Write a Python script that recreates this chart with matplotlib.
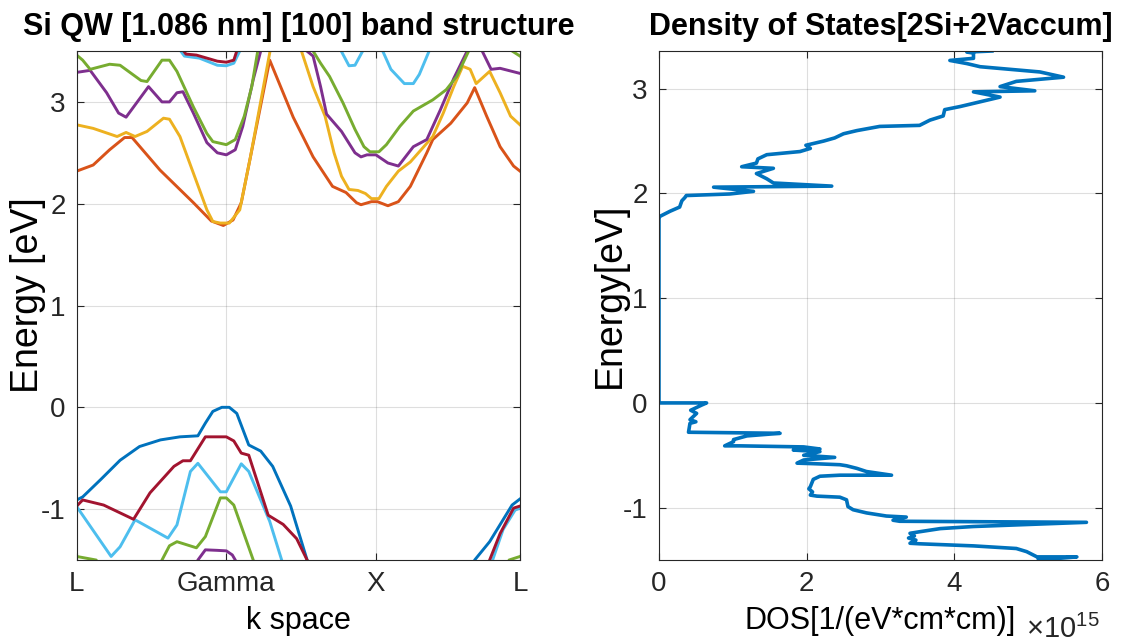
import numpy as np
import matplotlib
matplotlib.use("Agg")
import matplotlib.pyplot as plt

nan = np.nan

# ---- band structure: k along L-Gamma-X-L, energies in eV --------------------
k_ticks = [0.0, 1.0, 2.0, 2.963]
k_labels = ["L", "Gamma", "X", "L"]

# conduction bands
cb_orange_k = [0, 0.11, 0.22, 0.32, 0.37, 0.557, 0.78, 0.90, 0.98, 1.045, 1.10, 1.16, 1.29,
               1.447, 1.58, 1.71, 1.80, 1.87, 1.90, 1.97, 2.01, 2.08, 2.15, 2.23, 2.34, 2.38,
               2.50, 2.61, 2.66, 2.74, 2.83, 2.92, 2.963]
cb_orange_e = [2.32, 2.38, 2.53, 2.65, 2.65, 2.33, 2.01, 1.83, 1.786, 1.84, 2.01, 2.45, 3.41,
               2.85, 2.46, 2.17, 2.11, 2.01, 1.99, 2.02, 2.02, 1.98, 2.02, 2.17, 2.50, 2.63,
               2.79, 2.99, 3.14, 2.86, 2.56, 2.37, 2.32]

cb_yellow_k = [0, 0.11, 0.27, 0.33, 0.39, 0.47, 0.58, 0.62, 0.69, 0.78, 0.87, 0.91, 0.96,
               1.02, 1.09, 1.16, 1.305, 1.40, 1.49, 1.50, 1.58, 1.66, 1.72, 1.77, 1.82, 1.88,
               1.93, 1.97, 2.02, 2.07, 2.15, 2.23, 2.32, 2.38, 2.45, 2.52, 2.58, 2.63, 2.67,
               2.76, 2.83, 2.90, 2.963]
cb_yellow_e = [2.775, 2.74, 2.66, 2.70, 2.66, 2.71, 2.84, 2.83, 2.66, 2.30, 1.94, 1.825, 1.81,
               1.81, 1.94, 2.45, 3.60, 3.70, 3.60, 3.51, 3.15, 2.86, 2.50, 2.27, 2.14, 2.13,
               2.10, 2.05, 2.05, 2.17, 2.32, 2.41, 2.56, 2.66, 2.89, 3.15, 3.35, 3.32, 3.18,
               3.30, 3.09, 2.86, 2.775]

cb_purple_k = [0, 0.09, 0.20, 0.28, 0.33, 0.48, 0.57, 0.62, 0.67, 0.71, 0.78, 0.87, 0.94,
               1.00, 1.06, 1.11, 1.18, 1.23, 1.25, 1.51, 1.53, 1.58, 1.63, 1.67, 1.77, 1.86,
               1.90, 1.94, 2.00, 2.08, 2.15, 2.25, 2.34, 2.43, 2.52, 2.61, 2.63, 2.69, 2.71,
               2.77, 2.83, 2.963]
cb_purple_e = [3.29, 3.31, 3.09, 2.89, 2.85, 3.15, 3.00, 3.00, 3.09, 3.10, 2.89, 2.60, 2.50,
               2.48, 2.53, 2.76, 3.22, 3.50, 3.60, 3.60, 3.51, 3.45, 3.15, 2.88, 2.71, 2.50,
               2.46, 2.48, 2.48, 2.40, 2.37, 2.56, 2.63, 2.92, 3.23, 3.50, 3.60, 3.60, 3.50,
               3.32, 3.33, 3.28]

cb_green_k = [0, 0.04, 0.09, 0.22, 0.29, 0.43, 0.47, 0.57, 0.62, 0.67, 0.78, 0.87, 0.91,
              1.00, 1.06, 1.12, 1.17, 1.21, 1.23, 1.56, 1.58, 1.63, 1.69, 1.78, 1.86, 1.92,
              1.96, 2.02, 2.07, 2.16, 2.25, 2.38, 2.47, 2.54, 2.62, 2.64, 2.89, 2.91, 2.963]
cb_green_e = [3.46, 3.41, 3.32, 3.37, 3.36, 3.21, 3.20, 3.41, 3.41, 3.30, 2.95, 2.69, 2.61,
              2.58, 2.63, 2.86, 3.15, 3.50, 3.60, 3.60, 3.50, 3.38, 3.25, 2.99, 2.73, 2.56,
              2.51, 2.51, 2.58, 2.76, 2.91, 3.02, 3.12, 3.25, 3.50, 3.60, 3.60, 3.50, 3.45]

cb_lblue_k = [0.67, 0.72, 0.82, 0.94, 1.00, 1.05, 1.09, 1.10, nan,
              1.75, 1.82, 1.86, 1.93, nan,
              2.03, 2.10, 2.19, 2.25, 2.29, 2.37]
cb_lblue_e = [3.55, 3.45, 3.43, 3.36, 3.355, 3.38, 3.50, 3.55, nan,
              3.55, 3.355, 3.36, 3.55, nan,
              3.55, 3.32, 3.18, 3.18, 3.27, 3.55]

cb_dred_k = [0.69, 0.73, 0.80, 0.94, 1.00, 1.05, 1.07, 1.08]
cb_dred_e = [3.55, 3.47, 3.46, 3.40, 3.39, 3.41, 3.50, 3.55]

# valence bands
vb_blue_k = [0, 0.04, 0.16, 0.29, 0.42, 0.56, 0.69, 0.81, 0.86, 0.91, 0.97, 1.00, 1.02,
             1.07, 1.15, 1.23, 1.31, 1.43, 1.54, 1.56, 2.64, 2.66, 2.76, 2.91, 2.963]
vb_blue_e = [-0.91, -0.88, -0.71, -0.52, -0.385, -0.32, -0.29, -0.28, -0.155, -0.04, 0.0,
             0.0, 0.0, -0.06, -0.37, -0.43, -0.58, -0.97, -1.50, -1.60, -1.60, -1.50,
             -1.32, -0.96, -0.90]

vb_dred_k = [0, 0.04, 0.18, 0.38, 0.49, 0.65, 0.71, 0.76, 0.86, 1.00, 1.05, 1.10, 1.15,
             1.28, 1.38, 1.47, 1.54, 1.56, 2.74, 2.76, 2.83, 2.92, 2.963]
vb_dred_e = [-0.97, -0.91, -0.96, -1.10, -0.84, -0.58, -0.525, -0.525, -0.29, -0.29, -0.33,
             -0.45, -0.47, -1.06, -1.15, -1.29, -1.50, -1.60, -1.60, -1.50, -1.24, -0.99,
             -0.97]

vb_lblue_k = [0, 0.23, 0.29, 0.39, 0.61, 0.67, 0.76, 0.81, 0.96, 1.00, 1.10, 1.15, 1.23,
              1.29, 1.37, 1.38, 2.77, 2.78, 2.85, 2.93, 2.963]
vb_lblue_e = [-0.975, -1.465, -1.37, -1.105, -1.285, -1.155, -0.63, -0.55, -0.83, -0.83,
              -0.555, -0.63, -0.91, -1.12, -1.50, -1.60, -1.60, -1.50, -1.20, -1.01, -0.99]

vb_green_k = [0, 0.13, 0.15, nan, 0.56, 0.57, 0.62, 0.67, 0.80, 0.86, 0.96, 1.00, 1.05,
              1.18, 1.19, nan, 2.88, 2.89, 2.963]
vb_green_e = [-1.465, -1.50, -1.55, nan, -1.55, -1.50, -1.36, -1.32, -1.38, -1.27, -0.89,
              -0.89, -0.96, -1.50, -1.55, nan, -1.55, -1.50, -1.465]

vb_purple_k = [0.80, 0.81, 0.86, 0.94, 1.00, 1.04, 1.06, 1.07]
vb_purple_e = [-1.55, -1.50, -1.40, -1.405, -1.41, -1.45, -1.50, -1.55]

# ---- density of states (x10^15 1/(eV cm^2)) vs energy ----------------------
dos_val = [5.14, 5.66, 5.12, 4.98, 4.84, 4.26, 3.53, 3.40, 3.48, 3.38, 3.46, 3.40, 3.53, 3.81,
           4.26, 5.79, 3.26, 3.17, 3.35, 3.08, 2.81, 2.63, 2.56, 2.54, 2.45, 2.14, 2.05, 2.08,
           2.03, 2.05, 2.09, 2.18, 2.45, 3.15, 2.81, 2.68, 2.54, 2.45, 2.09, 1.87, 1.96, 2.38,
           1.96, 2.18, 1.82, 2.18, 1.96, 1.10, 0.89, 1.01, 1.01, 1.19, 1.64, 0.40, 0.42, 0.50,
           0.42, 0.51, 0.43, 0.58, 0.645, 0.0, 0.0, 0.01, 0.15, 0.28, 0.31, 0.35, 0.37, 0.96,
           1.28, 0.74, 2.34, 1.55, 1.46, 1.32, 1.55, 1.12, 1.32, 1.34, 1.46, 1.91, 2.05, 1.99,
           2.23, 2.38, 2.50, 2.68, 2.99, 3.53, 3.67, 3.85, 3.87, 4.08, 4.26, 4.62, 4.26, 5.09,
           4.62, 4.84, 5.48, 5.16, 4.35, 4.17, 3.94, 4.26, 4.26, 4.17, 4.51]
dos_e = [-1.50, -1.47, -1.47, -1.42, -1.39, -1.365, -1.345, -1.34, -1.31, -1.29, -1.27, -1.245,
         -1.23, -1.20, -1.18, -1.14, -1.13, -1.12, -1.09, -1.08, -1.05, -1.02, -0.99, -0.925,
         -0.90, -0.89, -0.88, -0.85, -0.82, -0.80, -0.73, -0.70, -0.69, -0.69, -0.655, -0.625,
         -0.60, -0.59, -0.58, -0.575, -0.545, -0.52, -0.50, -0.465, -0.45, -0.44, -0.42, -0.41,
         -0.41, -0.37, -0.35, -0.315, -0.29, -0.28, -0.195, -0.18, -0.16, -0.10, -0.07, -0.02,
         0.0, 0.0, 1.76, 1.78, 1.83, 1.87, 1.93, 1.96, 1.98, 1.995, 2.02, 2.06, 2.07, 2.10,
         2.14, 2.19, 2.24, 2.255, 2.29, 2.33, 2.37, 2.40, 2.43, 2.46, 2.50, 2.53, 2.57, 2.60,
         2.64, 2.65, 2.70, 2.74, 2.80, 2.83, 2.86, 2.92, 2.97, 2.98, 3.02, 3.07, 3.11, 3.16,
         3.21, 3.24, 3.27, 3.29, 3.34, 3.35, 3.36]

# MATLAB default line colours
BLUE, ORANGE, YELLOW = "#0072BD", "#D95319", "#EDB120"
PURPLE, GREEN, LBLUE, DRED = "#7E2F8E", "#77AC30", "#4DBEEE", "#A2142F"
INK = "#262626"

plt.rcParams["font.family"] = ["Liberation Sans", "DejaVu Sans"]
plt.rcParams["axes.unicode_minus"] = False
plt.rcParams["mathtext.default"] = "regular"


def style_axes(ax):
    ax.grid(True, color=INK, alpha=0.15, lw=0.8)
    ax.set_axisbelow(True)
    ax.tick_params(direction="in", top=True, right=True, length=5, width=0.8,
                   labelsize=20, colors=INK, pad=8)
    for sp in ax.spines.values():
        sp.set_color(INK)
        sp.set_linewidth(0.8)


fig = plt.figure(figsize=(11.28, 6.44), dpi=100)
ax1 = fig.add_axes([0.0680, 0.1304, 0.3930, 0.7904])
ax2 = fig.add_axes([0.5842, 0.1304, 0.3927, 0.7904])

bands = [
    (vb_blue_k, vb_blue_e, BLUE),
    (cb_orange_k, cb_orange_e, ORANGE),
    (cb_yellow_k, cb_yellow_e, YELLOW),
    (cb_purple_k, cb_purple_e, PURPLE),
    (vb_purple_k, vb_purple_e, PURPLE),
    (cb_green_k, cb_green_e, GREEN),
    (vb_green_k, vb_green_e, GREEN),
    (cb_lblue_k, cb_lblue_e, LBLUE),
    (vb_lblue_k, vb_lblue_e, LBLUE),
    (cb_dred_k, cb_dred_e, DRED),
    (vb_dred_k, vb_dred_e, DRED),
]
for k, e, c in bands:
    ax1.plot(k, e, color=c, lw=2.1, solid_joinstyle="round")

ax1.set_xlim(k_ticks[0], k_ticks[-1])
ax1.set_ylim(-1.5, 3.5)
ax1.set_xticks(k_ticks)
ax1.set_xticklabels(k_labels)
ax1.set_yticks([-1, 0, 1, 2, 3])
ax1.set_yticklabels(["-1", "0", "1", "2", "3"])
style_axes(ax1)
ax1.set_title("Si QW [1.086 nm] [100] band structure", fontsize=22, fontweight="bold",
              pad=11.5)
ax1.set_xlabel("k space", fontsize=22)
ax1.set_ylabel("Energy [eV]", fontsize=27)
ax1.xaxis.set_label_coords(0.5, -0.09)
ax1.yaxis.set_label_coords(-0.069, 0.52)

ax2.plot(dos_val, dos_e, color=BLUE, lw=2.6)
ax2.set_xlim(0, 6)
ax2.set_ylim(-1.5, 3.36)
ax2.set_xticks([0, 2, 4, 6])
ax2.set_yticks([-1, 0, 1, 2, 3])
ax2.set_yticklabels(["-1", "0", "1", "2", "3"])
style_axes(ax2)
ax2.set_title("Density of States[2Si+2Vaccum]", fontsize=22, fontweight="bold", pad=11.5)
ax2.set_xlabel("DOS[1/(eV*cm*cm)]", fontsize=22)
ax2.set_ylabel("Energy[eV]", fontsize=27)
ax2.xaxis.set_label_coords(0.5, -0.09)
ax2.yaxis.set_label_coords(-0.07, 0.52)
ax2.text(0.995, -0.153, r"$\times10^{15}$", transform=ax2.transAxes, ha="right",
         va="baseline", fontsize=21, color=INK)

fig.savefig("out.png", dpi=100)
